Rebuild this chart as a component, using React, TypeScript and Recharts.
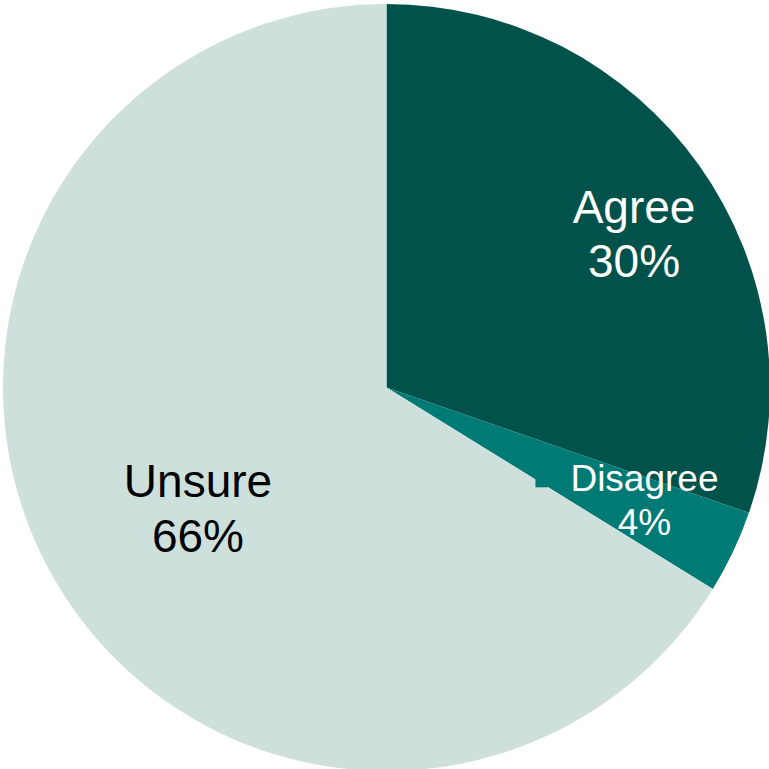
import React from "react";
import { PieChart, Pie, Cell } from "recharts";

const categories = ["Agree", "Disagree", "Unsure"];
const values = [30.3, 3.5, 66.2];
const percentLabels = ["30%", "4%", "66%"];
const colors = ["#00524A", "#007A74", "#CEE0DC"];
const labelColors = ["#FFFFFF", "#FFFFFF", "#000000"];
const labelSizes = [46, 37, 46];
// label placement: radius and angle (deg) from centre
const labelPolar = [
  { r: 283, a: 29 },
  { r: 287, a: -26 },
  { r: 233, a: 216 },
];

const data = categories.map((name, i) => ({ name, value: values[i] }));

const RAD = Math.PI / 180;

const renderLabel = (props: any) => {
  const { cx, cy, index } = props;
  const p = labelPolar[index];
  const x = cx + p.r * Math.cos(p.a * RAD);
  const y = cy - p.r * Math.sin(p.a * RAD);
  const fs = labelSizes[index];
  const lh = fs * 1.18;
  return (
    <g key={`lbl-${index}`}>
      {index === 1 && (
        <rect x={x - 109} y={y - 35} width={12} height={9} fill={colors[1]} />
      )}
      <text
        x={x}
        y={y - lh / 2}
        textAnchor="middle"
        fill={labelColors[index]}
        fontSize={fs}
        fontFamily="Liberation Sans, Arial, sans-serif"
      >
        <tspan x={x}>{categories[index]}</tspan>
        <tspan x={x} dy={lh}>{percentLabels[index]}</tspan>
      </text>
    </g>
  );
};

export default function App() {
  return (
    <div style={{ position: "absolute", left: 0, top: 0, width: 769, height: 769, background: "#fff" }}>
      <PieChart width={769} height={769} margin={{ top: 0, right: 0, bottom: 0, left: 0 }}>
        <Pie
          data={data}
          dataKey="value"
          nameKey="name"
          cx={386.5}
          cy={387.5}
          outerRadius={383.5}
          startAngle={90}
          endAngle={-270}
          stroke="none"
          label={renderLabel}
          labelLine={false}
          isAnimationActive={false}
        >
          {data.map((d, i) => (
            <Cell key={d.name} fill={colors[i]} />
          ))}
        </Pie>
      </PieChart>
    </div>
  );
}
